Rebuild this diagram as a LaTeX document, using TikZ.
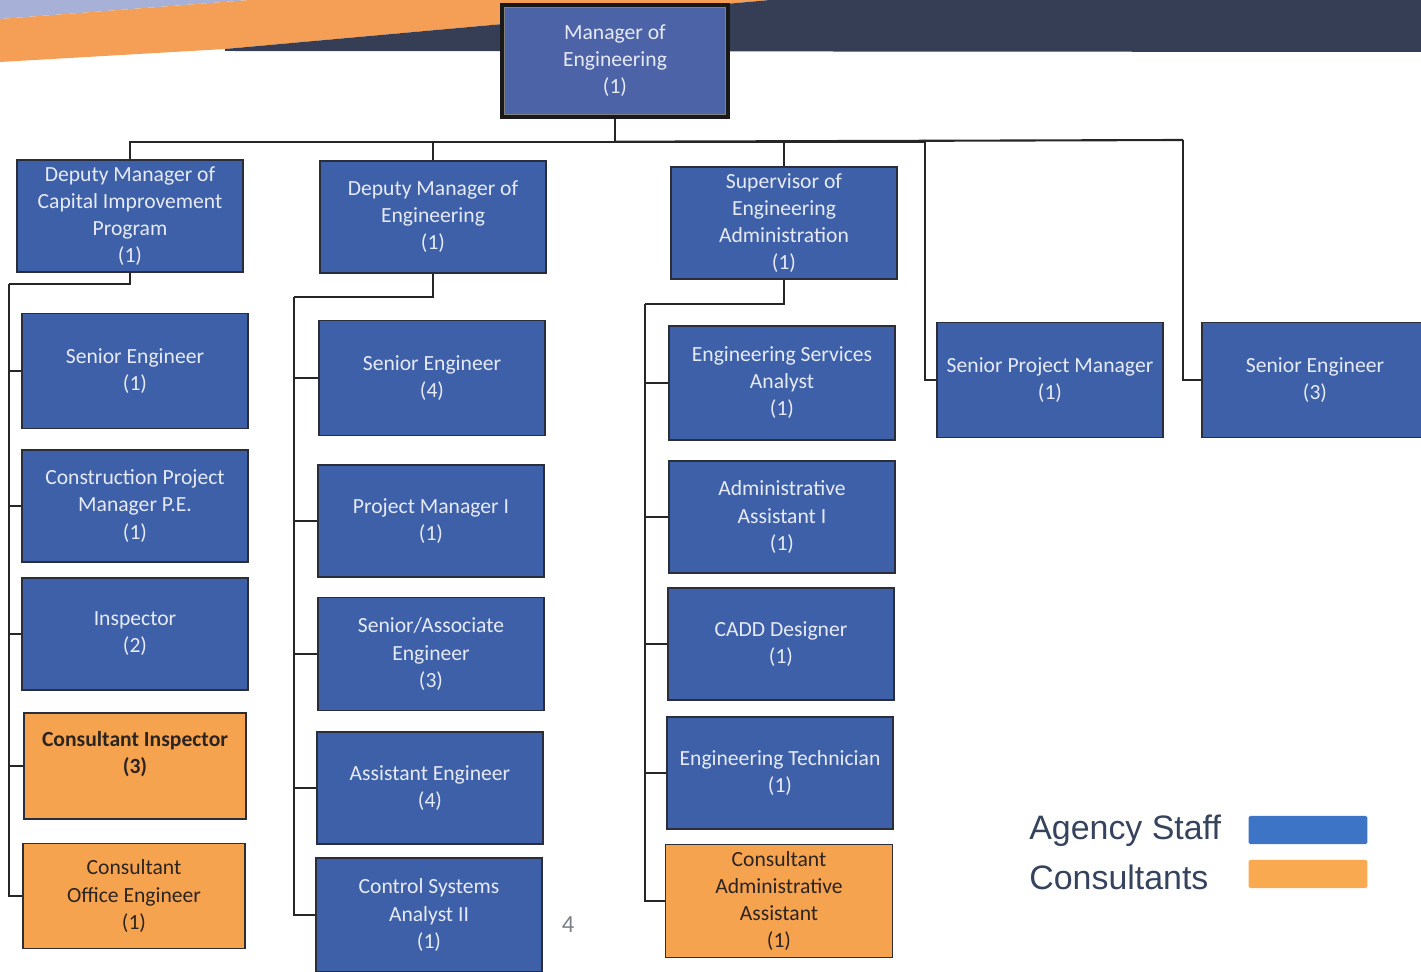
\documentclass[tikz,border=0pt]{standalone}
\usepackage{fontspec}
\setmainfont{Carlito}
\newfontfamily\legendfont{Liberation Sans}
\usepackage{xcolor}
\usepackage{tikz}

\definecolor{staffblue}{HTML}{3E60A8}
\definecolor{mgrblue}{HTML}{4D63A7}
\definecolor{boxtext}{HTML}{E6EAF4}
\definecolor{boxline}{HTML}{2A2E3A}
\definecolor{consorange}{HTML}{F6A34F}
\definecolor{constext}{HTML}{2B2420}
\definecolor{bannergray}{HTML}{A7B1D8}
\definecolor{bannerorange}{HTML}{F59E55}
\definecolor{bannernavy}{HTML}{363E55}
\definecolor{legendblue}{HTML}{3D74C6}
\definecolor{legendorange}{HTML}{F9AA50}
\definecolor{legendtext}{HTML}{36435E}
\definecolor{pagegray}{HTML}{7A7F8A}

\tikzset{
  box/.style={draw=boxline, line width=0.9pt, fill=staffblue, text=boxtext, align=center,
    minimum width=4.52cm, minimum height=2.24cm, inner sep=0pt,
    font=\fontsize{12.3}{15.4}\selectfont},
  cons/.style={box, fill=consorange, text=constext, minimum width=4.44cm},
  topbox/.style={box, fill=mgrblue, draw=black!90, line width=2pt},
  link/.style={line width=1.2pt, black!85},
  legendlabel/.style={anchor=west, text=legendtext, inner sep=0pt,
    font=\legendfont\fontsize{19.3}{20}\selectfont},
  swatch/.style={minimum width=2.38cm, minimum height=0.57cm, inner sep=0pt, rounded corners=1pt}
}

\begin{document}
\begin{tikzpicture}[x=0.02cm, y=-0.02cm]
    \useasboundingbox (0,0) rectangle (1421,972);
    \clip (0,0) rectangle (1421,972);

    \fill[bannergray] (0,0) -- (250,0) -- (0,19) -- cycle;
    \fill[bannerorange] (0,19) -- (250,0) -- (770,0) -- (225,49) -- (0,62) -- cycle;
    \fill[bannernavy] (225,49) -- (770,0) -- (1421,0) -- (1421,52) -- (225,51) -- cycle;

    \node[topbox] (mgr) at (615,61) {Manager of\\Engineering\\(1)};
    \draw[black!50, line width=0.6pt] ([shift={(4,4)}]mgr.north west) rectangle ([shift={(-4,-4)}]mgr.south east);

    \node[box] (dcip) at (130,216) {Deputy Manager of\\Capital Improvement\\Program\\(1)};
    \node[box] (dme) at (433,217) {Deputy Manager of\\Engineering\\(1)};
    \node[box] (sea) at (784,223) {Supervisor of\\Engineering\\Administration\\(1)};
    \node[box, minimum height=2.3cm] (spm) at (1050,380) {Senior Project Manager\\(1)};
    \node[box, minimum height=2.3cm] (se3) at (1315,380) {Senior Engineer\\(3)};

    \node[box, minimum height=2.3cm] (se1) at (135,371) {Senior Engineer\\(1)};
    \node[box] (cpm) at (135,506) {Construction Project\\Manager P.E.\\(1)};
    \node[box] (insp) at (135,634) {Inspector\\(2)};
    \node[cons, minimum height=2.12cm, font=\fontsize{12.3}{15.4}\selectfont\bfseries] (cins) at (135,766) {Consultant Inspector\\(3)\\\mbox{}};
    \node[cons, minimum height=2.1cm] (coe) at (134,896) {Consultant\\Office Engineer\\(1)};

    \node[box, minimum height=2.3cm] (se4) at (432,378) {Senior Engineer\\(4)};
    \node[box] (pm1) at (431,521) {Project Manager I\\(1)};
    \node[box, minimum height=2.26cm] (sae) at (431,654) {Senior/Associate\\Engineer\\(3)};
    \node[box] (ae4) at (430,788) {Assistant Engineer\\(4)};
    \node[box, minimum height=2.28cm] (csa) at (429,915) {Control Systems\\Analyst II\\(1)};

    \node[box, minimum height=2.28cm] (esa) at (782,383) {Engineering Services\\Analyst\\(1)};
    \node[box] (aa1) at (782,517) {Administrative\\Assistant I\\(1)};
    \node[box] (cadd) at (781,644) {CADD Designer\\(1)};
    \node[box] (etech) at (780,773) {Engineering Technician\\(1)};
    \node[cons, minimum width=4.54cm, minimum height=2.26cm] (caa) at (779,901) {Consultant\\Administrative\\Assistant\\(1)};

    \draw[link] (mgr.south) -- ++(0,23) coordinate (hub);
    \coordinate (b4) at (925,140);
    \coordinate (b5) at (1183,140);
    \foreach \n in {dcip,dme,sea} \draw[link] (hub) -| (\n.north);
    \draw[link] (hub) -- (b5);
    \draw[link] (hub) -| (b4) |- (spm.west);
    \draw[link] (b5) |- (se3.west);

    \coordinate (t1) at (9,284);
    \coordinate (t2) at (294,297);
    \coordinate (t3) at (645,304);
    \draw[link] (dcip.south) |- (t1);
    \draw[link] (dme.south) |- (t2);
    \draw[link] (sea.south) |- (t3);
    \foreach \n in {se1,cpm,insp,cins,coe} \draw[link] (t1) |- (\n.west);
    \foreach \n in {se4,pm1,sae,ae4,csa} \draw[link] (t2) |- (\n.west);
    \foreach \n in {esa,aa1,cadd,etech,caa} \draw[link] (t3) |- (\n.west);

    \node[text=pagegray, font=\fontsize{14}{16}\selectfont] (pagenum) at (568,925) {4};

    \node[legendlabel] (agency) at (1029,831) {Agency Staff};
    \node[legendlabel] (consultants) at (1029,877) {Consultants};
    \node[swatch, fill=legendblue] (swblue) at (1308,830) {};
    \node[swatch, fill=legendorange] (sworange) at (1308,874) {};
\end{tikzpicture}
\end{document}
